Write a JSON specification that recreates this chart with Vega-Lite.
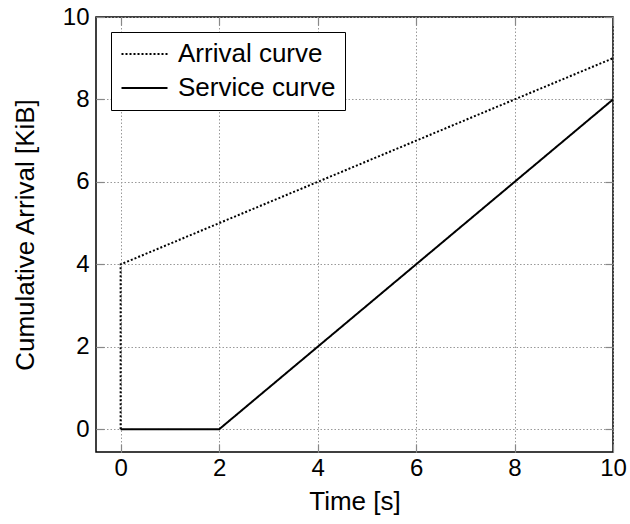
{
  "$schema": "https://vega.github.io/schema/vega-lite/v6.json",
  "width": 517,
  "height": 435,
  "autosize": {"type": "none"},
  "padding": {"left": 96, "top": 17, "right": 17, "bottom": 72},
  "background": "white",
  "config": {
    "font": "Liberation Sans",
    "view": {"stroke": "black", "strokeWidth": 1.5},
    "axis": {
      "labelFontSize": 24,
      "titleFontSize": 26,
      "titleFontWeight": "normal",
      "labelColor": "black",
      "titleColor": "black",
      "labelFlush": false,
      "domain": false,
      "tickColor": "#888",
      "tickSize": -8,
      "tickWidth": 1.2,
      "gridColor": "#999",
      "gridDash": [1.5, 2],
      "gridWidth": 1
    }
  },
  "data": {
    "values": [
      {"t": 0, "v": 0, "series": "Arrival curve", "o": 0},
      {"t": 0, "v": 4, "series": "Arrival curve", "o": 1},
      {"t": 10, "v": 9, "series": "Arrival curve", "o": 2},
      {"t": 0, "v": 0, "series": "Service curve", "o": 0},
      {"t": 2, "v": 0, "series": "Service curve", "o": 1},
      {"t": 10, "v": 8, "series": "Service curve", "o": 2}
    ]
  },
  "layer": [
    {
      "mark": {"type": "line", "color": "black", "strokeWidth": 2, "clip": true},
      "encoding": {
        "x": {
          "field": "t", "type": "quantitative",
          "scale": {"domain": [-0.5, 10], "nice": false, "zero": false},
          "axis": {"values": [0, 2, 4, 6, 8, 10], "title": "Time [s]", "labelPadding": 12, "titlePadding": 8}
        },
        "y": {
          "field": "v", "type": "quantitative",
          "scale": {"domain": [-0.55, 10], "nice": false, "zero": false},
          "axis": {"values": [0, 2, 4, 6, 8, 10], "title": "Cumulative Arrival [KiB]", "labelPadding": 15, "titlePadding": 24}
        },
        "order": {"field": "o"},
        "strokeDash": {
          "field": "series", "type": "nominal",
          "scale": {"domain": ["Arrival curve", "Service curve"], "range": [[2, 2], [1, 0]]},
          "legend": {
            "title": null,
            "orient": "none",
            "legendX": 15,
            "legendY": 15,
            "symbolType": "M-1,0H3",
            "symbolSize": 529,
            "symbolStrokeWidth": 2,
            "symbolStrokeColor": "black",
            "symbolFillColor": "transparent",
            "labelFontSize": 26,
            "labelColor": "black",
            "strokeColor": "black",
            "fillColor": "white",
            "padding": 9,
            "rowPadding": 8,
            "labelOffset": 32,
            "labelLimit": 300
          }
        }
      }
    },
    {
      "mark": {"type": "point", "opacity": 0},
      "encoding": {
        "x": {
          "field": "t", "type": "quantitative",
          "axis": {"orient": "top", "values": [0, 2, 4, 6, 8, 10], "labels": false, "title": null, "grid": false}
        },
        "y": {
          "field": "v", "type": "quantitative",
          "axis": {"orient": "right", "values": [0, 2, 4, 6, 8, 10], "labels": false, "title": null, "grid": false}
        }
      }
    }
  ],
  "resolve": {"axis": {"x": "independent", "y": "independent"}}
}
